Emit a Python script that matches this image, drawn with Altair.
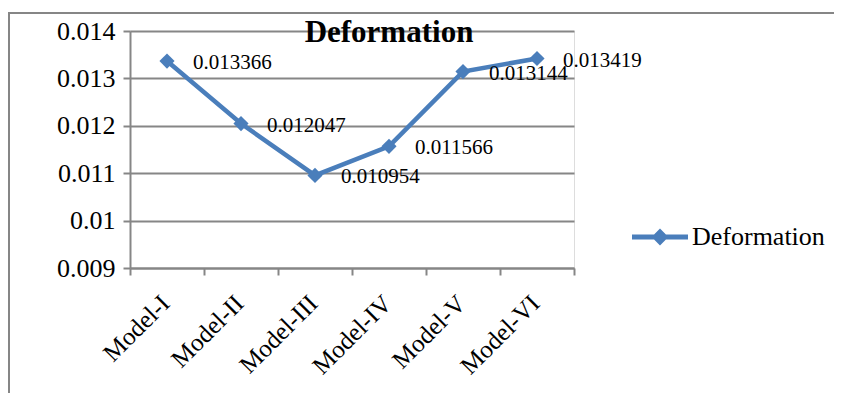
import altair as alt
import pandas as pd

models = ["Model-I", "Model-II", "Model-III", "Model-IV", "Model-V", "Model-VI"]
deformation = [0.013366, 0.012047, 0.010954, 0.011566, 0.013144, 0.013419]
value_labels = ["0.013366", "0.012047", "0.010954", "0.011566", "0.013144", "0.013419"]
series_name = "Deformation"
chart_title = "Deformation"
y_ticks = [0.009, 0.010, 0.011, 0.012, 0.013, 0.014]
y_tick_text = ["0.009", "0.01", "0.011", "0.012", "0.013", "0.014"]

df = pd.DataFrame({
    "model": models,
    "value": deformation,
    "label": value_labels,
    "series": [series_name] * len(models),
})

W, H = 444, 237
SERIF = "Liberation Serif"
BLUE = "#4a7ebb"
GRAY = "#868686"

label_expr = "{" + ",".join(f"'{v}':'{t}'" for v, t in zip(y_ticks, y_tick_text)) + "}"

x_enc = alt.X(
    "model:N",
    sort=models,
    scale=alt.Scale(type="band", paddingInner=0, paddingOuter=0),
    bandPosition=0.5,
    axis=alt.Axis(
        title=None, labelAngle=-45, labelAlign="right", labelBaseline="middle",
        labelPadding=24, labelOffset=-2, labelFont=SERIF, labelFontSize=25, labelColor="black",
        tickBand="extent", tickSize=7, tickColor=GRAY, tickWidth=2,
        domainColor=GRAY, domainWidth=2, grid=False,
    ),
)
y_enc = alt.Y(
    "value:Q",
    scale=alt.Scale(domain=[0.009, 0.014], nice=False, zero=False),
    axis=alt.Axis(
        title=None, values=y_ticks,
        labelExpr=f"({label_expr})[toString(round(datum.value*1000)/1000)] || format(datum.value, '.3~f')",
        labelFont=SERIF, labelFontSize=26, labelColor="black", labelPadding=8,
        tickSize=7, tickColor=GRAY, tickWidth=2,
        domainColor=GRAY, domainWidth=2,
        grid=True, gridColor=GRAY, gridWidth=2,
    ),
)

base = alt.Chart(df)

line = base.mark_line(color=BLUE, strokeWidth=4.5).encode(x=x_enc, y=y_enc)

legend_path = "M-1,-0.085L1,-0.085L1,0.085L-1,0.085Z M-0.3,0L0,-0.3L0.3,0L0,0.3Z"
points = base.mark_point(shape="diamond", filled=True, size=230, opacity=1).encode(
    x=x_enc, y=y_enc,
    color=alt.Color(
        "series:N",
        scale=alt.Scale(range=[BLUE]),
        legend=alt.Legend(
            title=None, orient="none", legendX=502, legendY=178,
            symbolType=legend_path, symbolSize=3136, symbolFillColor=BLUE,
            symbolStrokeWidth=0, symbolOpacity=1,
            labelFont=SERIF, labelFontSize=26, labelColor="black", labelOffset=4,
        ),
    ),
)

texts = base.mark_text(
    align="left", baseline="middle", dx=26, dy=2,
    font=SERIF, fontSize=21, color="black",
).encode(x=x_enc, y=y_enc, text="label:N")

one = pd.DataFrame({"t": [chart_title]})
title_mark = alt.Chart(one).mark_text(
    font=SERIF, fontSize=31, fontWeight="bold", color="black",
    align="center", baseline="alphabetic",
).encode(x=alt.value(259), y=alt.value(11), text="t:N")

frame_v = alt.Chart(one).mark_rule(color=GRAY, strokeWidth=2).encode(
    x=alt.value(-121), y=alt.value(-18), y2=alt.value(400)
)
frame_h = alt.Chart(one).mark_rule(color=GRAY, strokeWidth=2).encode(
    x=alt.value(-122), x2=alt.value(720), y=alt.value(-18)
)

chart = alt.layer(frame_v, frame_h, line, points, texts, title_mark).properties(
    width=W, height=H,
    autosize=alt.AutoSizeParams(type="none"),
    padding={"left": 122, "top": 23, "right": 260, "bottom": 125},
).configure_view(stroke=None).configure_axis(
    labelFont=SERIF, labelColor="black"
).configure_legend(labelFont=SERIF).configure(background="white", font=SERIF)

chart.save("out.html", embed_options={"renderer": "svg", "actions": False})
